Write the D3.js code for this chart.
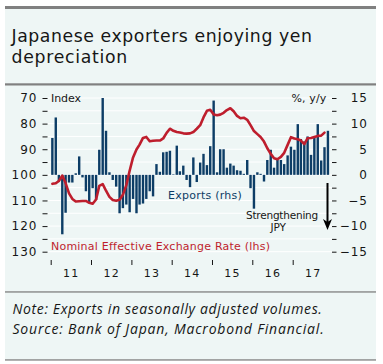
<!DOCTYPE html>
<html><head><meta charset="utf-8">
<script src="https://cdn.jsdelivr.net/npm/d3@7"></script>
<style>
html,body{margin:0;padding:0;background:#fff;}
svg{display:block;}
</style></head>
<body>
<svg id="chart" width="383" height="364"></svg>
<script>
// ---- data ----
const title = ["Japanese exporters enjoying yen", "depreciation"];
const notes = ["Note: Exports in seasonally adjusted volumes.", "Source: Bank of Japan, Macrobond Financial."];
const startYear = 2011;
const yearLabels = ["11", "12", "13", "14", "15", "16", "17"];
// Exports, % y/y (rhs), monthly from Jan 2011
const exportsYoY = [
  7.2, 11.2, -1.2, -11.6, -7.4, -1.5, -1.5, 0.3, 3.6, -0.5, -3.2, -5.5,
  -2.6, -4.9, 4.9, 15.0, 8.6, 0.5, -1.0, -2.3, -7.5, -6.5, -5.8, -7.3,
  -4.7, -7.5, -5.8, -5.6, -4.7, -3.2, -4.2, 2.1, 0.6, 4.4, 4.5, 4.7,
  0.1, 5.7, 0.7, 1.8, -1.0, -2.4, 3.4, -1.4, 2.4, 4.1, 1.9, 5.6,
  14.5, 0.5, 5.0, 5.0, 1.4, 2.2, 1.8, 0.9, 0.8, 0.2, 2.9, -2.6,
  -6.6, 0.5, 0.2, -1.3, 2.9, 4.9, 1.4, 2.9, 2.9, 2.1, 3.8, 5.5,
  4.9, 9.9, 7.0, 6.5, 7.5, 3.9, 7.5, 9.9, 2.8, 5.4, 8.6
];
// Nominal effective exchange rate index (lhs, inverted), monthly from Jan 2011
const neer = [
  103.5, 103.3, 102.4, 100.3, 103.2, 107.2, 109.4, 110.4, 110.3, 110.2, 110.2, 110.9,
  111.3, 109.6, 104.3, 103.6, 106.2, 108.6, 109.8, 110.1, 109.7, 107.8, 104.0, 98.4,
  93.2, 90.1, 88.2, 85.6, 85.2, 86.9, 86.7, 86.6, 86.6, 85.8, 83.6, 82.0,
  82.8, 83.3, 83.5, 83.8, 83.9, 83.8, 83.3, 82.0, 80.6, 77.6, 75.0, 74.6,
  76.4, 76.7, 76.5, 75.8, 74.7, 74.0, 75.2, 77.0, 77.9, 77.7, 78.5, 80.6,
  82.9, 84.1, 85.2, 87.0, 89.6, 91.8, 93.5, 93.9, 93.0, 91.4, 88.3, 85.3,
  85.8, 86.1, 86.6, 88.0, 85.7, 85.6, 85.2, 84.8, 84.7, 83.5
];
const leftTicks = [70, 75, 80, 85, 90, 95, 100, 105, 110, 115, 120, 125, 130];
const rightTicks = [15, 12.5, 10, 7.5, 5, 2.5, 0, -2.5, -5, -7.5, -10, -12.5, -15];

// ---- helpers ----
function fit(sel, target) {
  sel.each(function () {
    const n = this.getNumberOfChars();
    const w = this.getComputedTextLength();
    d3.select(this).attr("letter-spacing", ((target - w) / n).toFixed(3));
  });
}

// ---- layout ----
const svg = d3.select("#chart");
const bg = "#eef6f5", grey = "#808080", blue = "#0d3d66", red = "#be1e2d", ink = "#161616";

svg.append("rect").attr("x", 5).attr("y", 7).attr("width", 371).attr("height", 353).attr("fill", bg);
svg.append("rect").attr("x", 5).attr("y", 6).attr("width", 371).attr("height", 3).attr("fill", grey);
svg.append("rect").attr("x", 5).attr("y", 83.3).attr("width", 371).attr("height", 2.2).attr("fill", grey);
svg.append("rect").attr("x", 5).attr("y", 291.3).attr("width", 371).attr("height", 1.3).attr("fill", grey);
svg.append("rect").attr("x", 5).attr("y", 359.3).attr("width", 371).attr("height", 1.3).attr("fill", grey);

const titleWidths = [301, 116.5];
const tt = svg.append("text").attr("font-family", "DejaVu Sans").attr("font-size", 17.3)
  .attr("fill", ink);
tt.selectAll("tspan").data(title).join("tspan")
  .attr("x", 11.5).attr("y", (d, i) => 41.5 + i * 21.5).text(d => d)
  .each(function (d, i) { fit(d3.select(this), titleWidths[i]); });

const noteWidths = [310, 312];
const nt = svg.append("text").attr("font-family", "Open Sans").attr("font-style", "italic")
  .attr("font-size", 14).attr("fill", ink);
nt.selectAll("tspan").data(notes).join("tspan")
  .attr("x", 12.5).attr("y", (d, i) => 313.5 + i * 20.5).text(d => d)
  .each(function (d, i) { fit(d3.select(this), noteWidths[i]); });

const x0 = 50.7, x1 = 333, plotL = 48, plotR = 332;
const x = d3.scaleTime().domain([new Date(startYear, 0, 1), new Date(startYear + 7, 0, 1)]).range([x0, x1]);
const yL = d3.scaleLinear().domain([70, 130]).range([98, 251.7]);
const yR = d3.scaleLinear().domain([15, -15]).range([98, 251.7]);
const mid = i => new Date(startYear, i, 16);

// gridlines
svg.append("g").selectAll("line").data(leftTicks).join("line")
  .attr("x1", plotL).attr("x2", plotR)
  .attr("y1", d => yL(d)).attr("y2", d => yL(d))
  .attr("stroke", "#ffffff").attr("stroke-width", 1);

// bars
const bw = 2.4;
svg.append("g").selectAll("rect").data(exportsYoY).join("rect")
  .attr("x", (d, i) => x(mid(i)) - bw / 2)
  .attr("width", bw)
  .attr("y", d => Math.min(yR(d), yR(0)))
  .attr("height", d => Math.abs(yR(d) - yR(0)))
  .attr("fill", blue);

// line
const line = d3.line().x((d, i) => x(mid(i))).y(d => yL(d));
svg.append("path").datum(neer).attr("d", line)
  .attr("fill", "none").attr("stroke", red).attr("stroke-width", 2.6)
  .attr("stroke-linejoin", "round").attr("stroke-linecap", "round");

// axes
const fmtL = d => d % 10 === 0 ? d : "";
const axL = svg.append("g").attr("transform", `translate(${plotL - 0.5},0)`)
  .call(d3.axisLeft(yL).tickValues(leftTicks).tickFormat(fmtL).tickSize(5).tickPadding(5));
const fmtR = d => (d % 5 === 0) ? d3.format("d")(d) : "";
const axR = svg.append("g").attr("transform", `translate(${plotR},0)`)
  .call(d3.axisRight(yR).tickValues(rightTicks).tickFormat(fmtR).tickSize(4.5).tickPadding(5));
const xTicks = d3.range(0, 7).map(k => new Date(startYear + k, 0, 1));
const axX = svg.append("g").attr("transform", `translate(0,260)`)
  .call(d3.axisBottom(x).tickValues(xTicks).tickFormat("").tickSize(5));
svg.append("g").selectAll("text").data(yearLabels).join("text")
  .attr("x", (d, i) => x(new Date(startYear + i, 6, 1)) + 0.6)
  .attr("y", 277).attr("text-anchor", "middle")
  .attr("font-family", "DejaVu Sans").attr("font-size", 11).attr("letter-spacing", 1.3).attr("fill", ink)
  .text(d => d);
[axL, axR, axX].forEach(a => {
  a.select(".domain").remove();
  a.selectAll("line").attr("stroke", ink).attr("stroke-width", 1);
  a.selectAll("text").attr("font-family", "DejaVu Sans").attr("font-size", 12).attr("letter-spacing", 1).attr("fill", ink);
});
axR.selectAll("text").attr("text-anchor", "end").attr("x", 36);

// annotations
const ann = svg.append("g").attr("font-family", "DejaVu Sans").attr("font-size", 11);
ann.append("text").attr("x", 51).attr("y", 102).attr("fill", ink).text("Index").call(fit, 30);
ann.append("text").attr("x", 291.5).attr("y", 102).attr("fill", ink).text("%, y/y").call(fit, 35);
ann.append("text").attr("x", 168).attr("y", 199).attr("fill", blue).text("Exports (rhs)").call(fit, 74);
ann.append("text").attr("x", 51).attr("y", 250).attr("fill", red).text("Nominal Effective Exchange Rate (lhs)").call(fit, 219);
const st = ann.append("text").attr("fill", ink).attr("font-size", 10.5);
st.append("tspan").attr("x", 246).attr("y", 218.5).text("Strengthening").call(fit, 72);
st.append("tspan").attr("x", 270.5).attr("y", 231).text("JPY").call(fit, 15.5);
// arrow
const ax = 327.5;
svg.append("line").attr("x1", ax).attr("x2", ax).attr("y1", 183).attr("y2", 224)
  .attr("stroke", "#000").attr("stroke-width", 2);
svg.append("path")
  .attr("d", `M${ax - 4.5},${219} L${ax},${230} L${ax + 4.5},${219} L${ax},${222} Z`)
  .attr("fill", "#000");
</script>
</body></html>
